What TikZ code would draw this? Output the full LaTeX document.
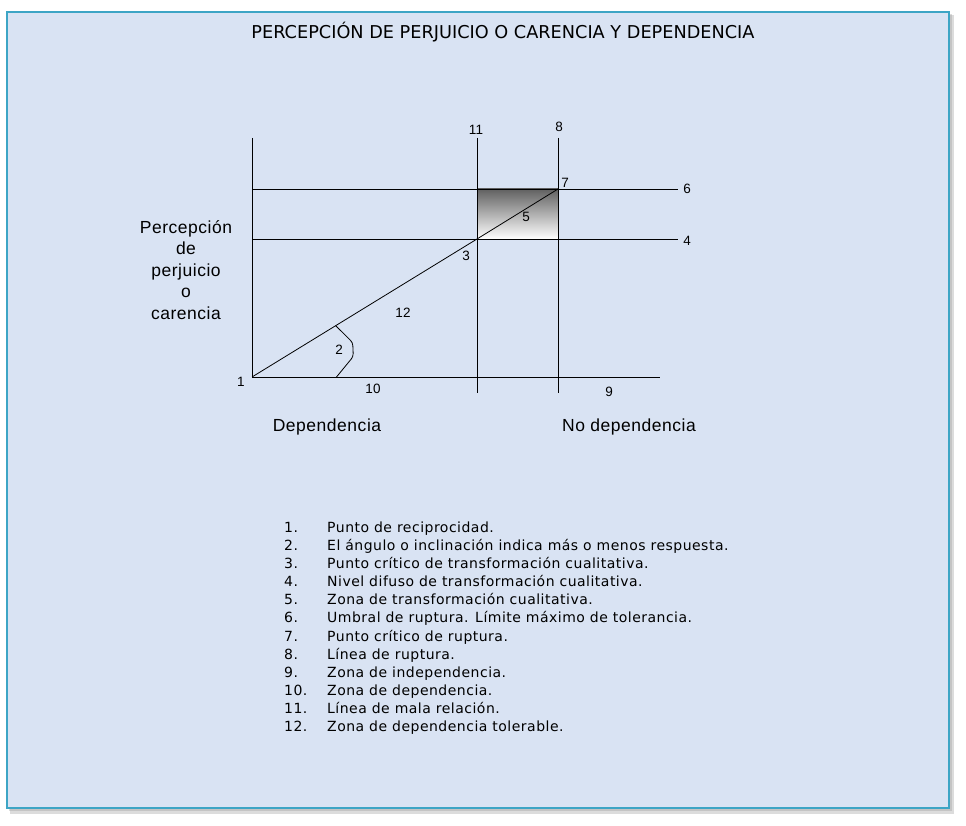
\documentclass[tikz,border=0pt]{standalone}
\usepackage{fontspec}
\setmainfont{DejaVu Sans}
\newfontfamily\chartfont[LetterSpace=3]{Liberation Sans}
\newfontfamily\legendfont[LetterSpace=3.5]{DejaVu Sans}

\definecolor{paneblue}{HTML}{D9E3F3}
\definecolor{frameblue}{HTML}{3DA5C5}

\tikzset{
  chartline/.style={line width=0.8pt,black},
  numlabel/.style={font=\chartfont\fontsize{13.5}{15}\selectfont,inner sep=1pt},
  axislabel/.style={font=\chartfont\fontsize{17.5}{21.5}\selectfont,align=center,inner sep=0pt},
  legendtext/.style={font=\legendfont\fontsize{14}{16}\selectfont,anchor=base west,inner sep=0pt}
}

\begin{document}
\begin{tikzpicture}[x=1pt,y=-1pt]

  \useasboundingbox (0,0) rectangle (966,826);

  % shadow and panel
  \fill[black!45,opacity=0.3] (10,15) rectangle (954,814);
  \fill[black!45,opacity=0.3] (9,14) rectangle (952,811);
  \draw[line width=2.5pt,frameblue,fill=paneblue] (7,12) rectangle (949,808);

  % title
  \node[font=\fontsize{17.7}{20}\selectfont] (title) at (503,32)
    {PERCEPCIÓN DE PERJUICIO O CARENCIA Y DEPENDENCIA};

  % transformation zone
  \shade[top color=black!62,middle color=black!22,bottom color=white]
    (477,189) rectangle (558,239);

  % axes
  \draw[chartline] (252,138) coordinate (ytop)
    -- (252,377) coordinate (orig) -- (660,377) coordinate (xend);

  % levels 6 and 4
  \draw[chartline] (252,189) coordinate (l6a) -- (678,189) coordinate (l6b);
  \draw[chartline] (252,239) coordinate (l4a) -- (678,239) coordinate (l4b);

  % lines 11 and 8
  \draw[chartline] (477,138) coordinate (l11a) -- (477,393) coordinate (l11b);
  \draw[chartline] (558,138) coordinate (l8a) -- (558,393) coordinate (l8b);

  % reciprocity line
  \coordinate (p3) at (477,239);
  \coordinate (p7) at (558,189);
  \draw[chartline] (orig) -- (p3) -- (p7);

  % angle
  \draw[chartline,rounded corners=3pt] (335.7,325.7) coordinate (a2)
    -- (352.7,342.5) -- (353.3,356.5) -- (336.5,377) coordinate (b2);

  % number labels
  \node[numlabel] (n1) at (241,382) {1};
  \node[numlabel] (n2) at (339,350) {2};
  \node[numlabel] (n3) at (466,256) {3};
  \node[numlabel] (n4) at (687,241) {4};
  \node[numlabel] (n5) at (526,217) {5};
  \node[numlabel] (n6) at (687,189) {6};
  \node[numlabel] (n7) at (565,183) {7};
  \node[numlabel] (n8) at (559,127) {8};
  \node[numlabel] (n9) at (609,392) {9};
  \node[numlabel] (n10) at (373,389) {10};
  \node[numlabel] (n11) at (476,130) {11};
  \node[numlabel] (n12) at (403,313) {12};

  % axis labels
  \node[axislabel] (percep) at (186,270)
    {Percepción\\de\\perjuicio\\o\\carencia};
  \node[axislabel] (dep) at (327,427) {Dependencia};
  \node[axislabel] (nodep) at (629,427) {No dependencia};

  % legend
  \foreach \n/\txt [count=\i from 0] in {
      1/Punto de reciprocidad.,
      2/El ángulo o inclinación indica más o menos respuesta.,
      3/Punto crítico de transformación cualitativa.,
      4/Nivel difuso de transformación cualitativa.,
      5/Zona de transformación cualitativa.,
      6/Umbral de ruptura. Límite máximo de tolerancia.,
      7/Punto crítico de ruptura.,
      8/Línea de ruptura.,
      9/Zona de independencia.,
      10/Zona de dependencia.,
      11/Línea de mala relación.,
      12/Zona de dependencia tolerable.}
  {
    \node[legendtext] (num\n) at (284,{532+18.18*\i}) {\n.};
    \node[legendtext] (item\n) at (327,{532+18.18*\i}) {\txt};
  }
\end{tikzpicture}
\end{document}
